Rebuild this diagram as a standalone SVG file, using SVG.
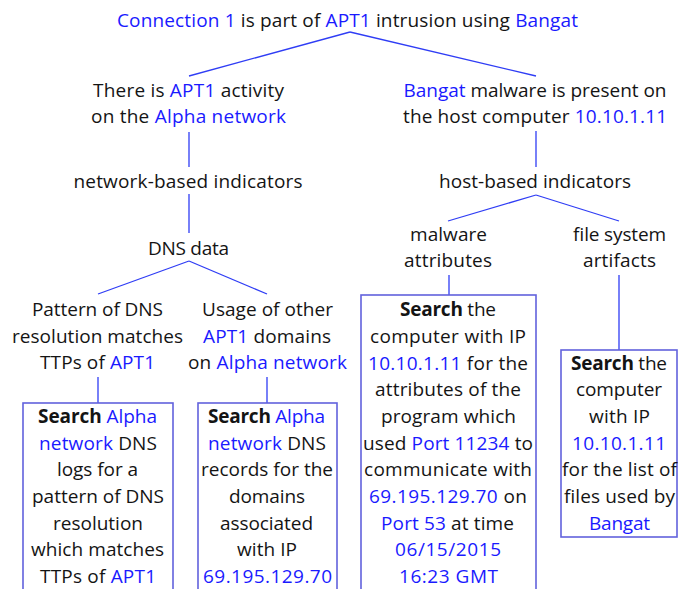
<svg xmlns="http://www.w3.org/2000/svg" width="678" height="589" viewBox="0 0 678 589">
  <style>
    text { font-family: "Open Sans", Lato, "Liberation Sans", sans-serif; font-size: 19px; fill: #141414; text-anchor: middle; }
    .hl { fill: #1a1aff; }
    .kw { font-weight: bold; }
    .edge { stroke: #2f3df5; stroke-width: 1.3; fill: none; }
    .box { stroke: #6262dd; stroke-width: 1.6; fill: #ffffff; }
  </style>
  <rect width="678" height="589" fill="#ffffff"/>

  <!-- tree edges -->
  <g id="connectors">
    <line class="edge" x1="350" y1="32" x2="189" y2="76"/>
    <line class="edge" x1="350" y1="32" x2="536" y2="76"/>
    <line class="edge" x1="189" y1="132" x2="189" y2="167"/>
    <line class="edge" x1="536" y1="131" x2="536" y2="167"/>
    <line class="edge" x1="189" y1="194" x2="189" y2="233"/>
    <line class="edge" x1="189" y1="261" x2="98" y2="294"/>
    <line class="edge" x1="189" y1="261" x2="267" y2="294"/>
    <line class="edge" x1="98" y1="377" x2="98" y2="403"/>
    <line class="edge" x1="267" y1="377" x2="267" y2="403"/>
    <line class="edge" x1="536" y1="195" x2="448" y2="221"/>
    <line class="edge" x1="536" y1="195" x2="619" y2="221"/>
    <line class="edge" x1="449" y1="275" x2="449" y2="295"/>
    <line class="edge" x1="619" y1="275" x2="619" y2="350"/>
  </g>

  <g id="root">
    <text x="347.5" y="27" textLength="461"><tspan class="hl">Connection 1</tspan> is part of <tspan class="hl">APT1</tspan> intrusion using <tspan class="hl">Bangat</tspan></text>
  </g>

  <g id="apt1-activity">
    <text x="188.5" y="97" textLength="191">There is <tspan class="hl">APT1</tspan> activity</text>
    <text x="188.5" y="123" textLength="195">on the <tspan class="hl">Alpha network</tspan></text>
  </g>

  <g id="bangat-present">
    <text x="535" y="97" textLength="263"><tspan class="hl">Bangat</tspan> malware is present on</text>
    <text x="535" y="123" textLength="264">the host computer <tspan class="hl">10.10.1.11</tspan></text>
  </g>

  <g id="network-indicators">
    <text x="188" y="188" textLength="229">network-based indicators</text>
  </g>

  <g id="host-indicators">
    <text x="535" y="188" textLength="192">host-based indicators</text>
  </g>

  <g id="dns-data">
    <text x="188.5" y="255" textLength="81">DNS data</text>
  </g>

  <g id="dns-pattern">
    <text x="97.5" y="316" textLength="131">Pattern of DNS</text>
    <text x="97.5" y="343" textLength="171">resolution matches</text>
    <text x="97.5" y="369" textLength="115"><tspan>TTPs of </tspan><tspan class="hl">APT1</tspan></text>
  </g>

  <g id="apt1-domains">
    <text x="267.5" y="316" textLength="131">Usage of other</text>
    <text x="267" y="343" textLength="128"><tspan class="hl">APT1</tspan> domains</text>
    <text x="267.5" y="369" textLength="159">on <tspan class="hl">Alpha network</tspan></text>
  </g>

  <g id="malware-attributes">
    <text x="448.5" y="241" textLength="77">malware</text>
    <text x="448" y="267" textLength="88">attributes</text>
  </g>

  <g id="file-artifacts">
    <text x="619.5" y="241" textLength="93">file system</text>
    <text x="619.5" y="267" textLength="73">artifacts</text>
  </g>

  <g id="search-dns-logs">
    <rect class="box" x="23" y="403" width="150" height="200"/>
    <text x="97.5" y="423" textLength="119"><tspan class="kw">Search</tspan> <tspan class="hl">Alpha</tspan></text>
    <text x="98" y="450" textLength="118"><tspan class="hl">network</tspan> DNS</text>
    <text x="97.5" y="476" textLength="81">logs for a</text>
    <text x="98" y="503" textLength="132">pattern of DNS</text>
    <text x="98" y="530" textLength="90">resolution</text>
    <text x="97.5" y="556" textLength="133">which matches</text>
    <text x="98" y="583" textLength="116"><tspan>TTPs of </tspan><tspan class="hl">APT1</tspan></text>
  </g>

  <g id="search-dns-records">
    <rect class="box" x="198" y="403" width="139" height="200"/>
    <text x="266.5" y="423" textLength="117"><tspan class="kw">Search</tspan> <tspan class="hl">Alpha</tspan></text>
    <text x="267" y="450" textLength="118"><tspan class="hl">network</tspan> DNS</text>
    <text x="267" y="476" textLength="132">records for the</text>
    <text x="267" y="503" textLength="76">domains</text>
    <text x="266.5" y="530" textLength="93">associated</text>
    <text x="267" y="556" textLength="60">with IP</text>
    <text x="267.5" y="583" textLength="129" class="hl">69.195.129.70</text>
  </g>

  <g id="search-program">
    <rect class="box" x="361" y="295" width="175" height="310"/>
    <text x="448" y="316" textLength="96"><tspan class="kw">Search</tspan> the</text>
    <text x="448" y="343" textLength="156">computer with IP</text>
    <text x="448" y="370" textLength="160"><tspan class="hl">10.10.1.11</tspan> for the</text>
    <text x="448" y="396" textLength="146">attributes of the</text>
    <text x="448.5" y="423" textLength="135">program which</text>
    <text x="448" y="450" textLength="170">used <tspan class="hl">Port 11234</tspan> to</text>
    <text x="448" y="476" textLength="168">communicate with</text>
    <text x="448" y="503" textLength="158"><tspan class="hl">69.195.129.70</tspan> on</text>
    <text x="447.5" y="530" textLength="133"><tspan class="hl">Port 53</tspan> at time</text>
    <text x="448" y="556" textLength="106" class="hl">06/15/2015</text>
    <text x="448.5" y="583" textLength="99" class="hl">16:23 GMT</text>
  </g>

  <g id="search-files">
    <rect class="box" x="561" y="350" width="116" height="187"/>
    <text x="619" y="370" textLength="96"><tspan class="kw">Search</tspan> the</text>
    <text x="619" y="396" textLength="86">computer</text>
    <text x="619.5" y="423" textLength="61">with IP</text>
    <text x="619" y="450" textLength="94" class="hl">10.10.1.11</text>
    <text x="619.5" y="476" textLength="115">for the list of</text>
    <text x="619.5" y="503" textLength="111">files used by</text>
    <text x="619.5" y="530" textLength="61" class="hl">Bangat</text>
  </g>
</svg>
